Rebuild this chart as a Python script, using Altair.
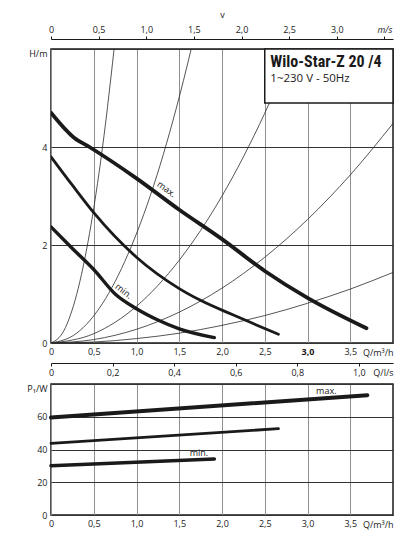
import altair as alt
import pandas as pd

# ---------------- data ----------------
Q_TICKS = [0, 0.5, 1.0, 1.5, 2.0, 2.5, 3.0, 3.5]
V_TICKS = [0, 0.5, 1.0, 1.5, 2.0, 2.5, 3.0, 3.5]
LS_TICKS = [0, 0.2, 0.4, 0.6, 0.8, 1.0]
H_TICKS = [0, 2, 4, 6]
P_TICKS = [0, 20, 40, 60, 80]
Q_MAX = 4.0
H_MAX = 6.0
P_MAX = 80
V_MAX = 3.59
LS_MAX = 1.111

# pump curves H(Q)
max_q = [0, 0.27, 0.45, 1.0, 1.5, 2.0, 2.5, 3.0, 3.69]
max_h = [4.70, 4.19, 4.00, 3.36, 2.72, 2.12, 1.47, 0.92, 0.30]
mid_q = [0, 0.25, 0.5, 1.0, 1.5, 1.76, 2.12, 2.66]
mid_h = [3.80, 3.22, 2.66, 1.75, 1.11, 0.86, 0.58, 0.18]
min_q = [0, 0.25, 0.5, 0.75, 1.0, 1.25, 1.5, 1.91]
min_h = [2.37, 1.93, 1.50, 1.00, 0.70, 0.47, 0.29, 0.11]

# thin system curves
s1_q = [0, 0.15, 0.3, 0.45, 0.6, 0.76]
s1_h = [0, 0.25, 0.99, 2.23, 3.96, 6.35]
s2_q = [0, 0.3, 0.6, 0.9, 1.2, 1.5, 1.7]
s2_h = [0, 0.20, 0.80, 1.81, 3.21, 5.02, 6.44]
s3_q = [0, 0.5, 1.0, 1.5, 2.0, 2.5, 2.9]
s3_h = [0, 0.19, 0.75, 1.69, 3.00, 4.69, 6.31]
s4_q = [0, 0.5, 1.0, 1.5, 2.0, 2.5, 3.0, 3.5, 4.0]
s4_h = [0, 0.07, 0.28, 0.63, 1.12, 1.75, 2.52, 3.43, 4.48]
s5_q = [0, 0.5, 1.0, 1.5, 2.0, 2.5, 3.0, 3.5, 4.0]
s5_h = [0, 0.02, 0.09, 0.20, 0.36, 0.56, 0.81, 1.10, 1.44]

# power curves P1(Q)
pmax_q = [0, 3.70]
pmax_p = [59.5, 73.2]
pmid_q = [0, 2.66]
pmid_p = [43.8, 52.7]
pmin_q = [0, 1.91]
pmin_p = [30.1, 34.2]

# annotations
title_lines = ["Wilo-Star-Z 20 /4", "1~230 V - 50Hz"]
box_q = [2.5, 4.0]
box_h = [4.9, 6.0]
curve_labels = ["max.", "min."]
curve_label_q = [1.35, 0.85]
curve_label_h = [3.14, 1.06]
curve_label_angle = [36, 38]
p_label_q = [3.22, 1.73]
p_label_p = [75.7, 37.9]

# ---------------- styling ----------------
FONT = "Open Sans"
TFONT = "Liberation Sans Narrow, Roboto Condensed, Roboto"
INK = "#1a1a1a"
W, HA, HB = 342, 294, 131

comma = "datum.value == 0 ? '0' : replace(format(datum.value, '.1f'), '.', ',')"


def q_scale():
    return alt.Scale(domain=[0, Q_MAX], nice=False, zero=False)


h_scale = alt.Scale(domain=[0, H_MAX], nice=False)
p_scale = alt.Scale(domain=[0, P_MAX], nice=False)


def q_axis(bold3=False):
    kw = {}
    if bold3:
        kw["labelFontWeight"] = {"condition": {"test": "datum.value == 3", "value": "bold"},
                                 "value": "normal"}
    return alt.Axis(values=Q_TICKS, grid=True, gridColor="#8f8f8f", gridWidth=1,
                    ticks=False, domain=False, labelExpr=comma, labelPadding=4,
                    title="Q/m³/h", titleX=W, titleY=12, titleAlign="right",
                    titleBaseline="alphabetic", **kw)


XA_AX = alt.X("Q:Q", scale=q_scale(), axis=q_axis(True))
XA = alt.X("Q:Q", scale=q_scale(), axis=None)
YA = alt.Y("H:Q", scale=h_scale, axis=alt.Axis(
    values=H_TICKS, grid=True, gridColor="#333333", gridWidth=1, ticks=False,
    domain=False, labelPadding=4, title=None,
    labelExpr="datum.value == 6 ? 'H/m' : format(datum.value, 'd')",
    labelBaseline={"condition": {"test": "datum.value == 6", "value": "top"},
                   "value": "middle"}))

# pump curves
rows = []
for name, qs, hs, w in [("max", max_q, max_h, 3.8), ("mid", mid_q, mid_h, 2.8),
                        ("min", min_q, min_h, 3.4)]:
    for i, (q, h) in enumerate(zip(qs, hs)):
        rows.append({"curve": name, "i": i, "Q": q, "H": h, "w": w})
pump_df = pd.DataFrame(rows)

rows = []
for name, qs, hs in [("s1", s1_q, s1_h), ("s2", s2_q, s2_h), ("s3", s3_q, s3_h),
                     ("s4", s4_q, s4_h), ("s5", s5_q, s5_h)]:
    for i, (q, h) in enumerate(zip(qs, hs)):
        rows.append({"curve": name, "i": i, "Q": q, "H": h})
sys_df = pd.DataFrame(rows)

sys_layer = alt.Chart(sys_df).mark_line(
    color="#2a2a2a", strokeWidth=0.8, interpolate="monotone", clip=True
).encode(x=XA_AX, y=YA, detail="curve:N", order="i:Q")

pump_layer = alt.Chart(pump_df).mark_line(
    color=INK, interpolate="monotone", strokeCap="round", clip=True
).encode(x=XA, y=YA, detail="curve:N", order="i:Q",
         strokeWidth=alt.StrokeWidth("w:Q", scale=None))

box_df = pd.DataFrame({"Q": [box_q[0]], "Q2": [box_q[1]], "H": [box_h[0]], "H2": [box_h[1]]})
box_layer = alt.Chart(box_df).mark_rect(
    fill="white", stroke=INK, strokeWidth=1.5
).encode(x=XA, x2="Q2", y=YA, y2="H2")

t1 = alt.Chart(pd.DataFrame({"Q": [2.565], "H": [5.63], "t": [title_lines[0]]})).mark_text(
    align="left", baseline="alphabetic", font=TFONT, fontSize=16, fontWeight="bold", color=INK
).encode(x=XA, y=YA, text="t:N")
t2 = alt.Chart(pd.DataFrame({"Q": [2.565], "H": [5.33], "t": [title_lines[1]]})).mark_text(
    align="left", baseline="alphabetic", font=FONT, fontSize=11.5, color=INK
).encode(x=XA, y=YA, text="t:N")

lab_layers = [
    alt.Chart(pd.DataFrame({"Q": [curve_label_q[k]], "H": [curve_label_h[k]],
                            "t": [curve_labels[k]]})).mark_text(
        font=FONT, fontSize=9, color=INK, angle=int(curve_label_angle[k]),
        align="center", baseline="middle"
    ).encode(x=XA, y=YA, text="t:N")
    for k in range(len(curve_labels))
]

v_layer = alt.Chart(pd.DataFrame({"v": [0, V_MAX], "H": [1, 1]})).mark_point(opacity=0).encode(
    x=alt.X("v:Q", scale=alt.Scale(domain=[0, V_MAX], nice=False, zero=False),
            axis=alt.Axis(orient="top", offset=10, values=V_TICKS, grid=False,
                          domain=True, domainColor=INK, domainWidth=1,
                          ticks=True, tickSize=3, tickColor=INK, labelPadding=2,
                          labelExpr="datum.value == 3.5 ? 'm/s' : (" + comma + ")",
                          labelFontStyle={"condition": {"test": "datum.value == 3.5",
                                                        "value": "italic"},
                                          "value": "normal"},
                          title="v", titlePadding=6)),
    y=YA,
)

ls_layer = alt.Chart(pd.DataFrame({"ls": [0, LS_MAX], "H": [1, 1]})).mark_point(opacity=0).encode(
    x=alt.X("ls:Q", scale=alt.Scale(domain=[0, LS_MAX], nice=False, zero=False),
            axis=alt.Axis(orient="bottom", offset=20, values=LS_TICKS, grid=False,
                          domain=True, domainColor=INK, domainWidth=1,
                          ticks=True, tickSize=3, tickColor=INK, labelPadding=2,
                          labelExpr=comma, title="Q/l/s", titleX=W, titleY=12,
                          titleAlign="right", titleBaseline="alphabetic")),
    y=YA,
)

panel_a = alt.layer(
    sys_layer, pump_layer, box_layer, t1, t2, *lab_layers, v_layer, ls_layer
).resolve_scale(x="independent").properties(width=W, height=HA)

# ---------------- power panel ----------------
rows = []
for name, qs, ps, w in [("max", pmax_q, pmax_p, 4.0), ("mid", pmid_q, pmid_p, 2.8),
                        ("min", pmin_q, pmin_p, 3.6)]:
    for i, (q, p) in enumerate(zip(qs, ps)):
        rows.append({"curve": name, "i": i, "Q": q, "P": p, "w": w})
pow_df = pd.DataFrame(rows)

XB = alt.X("Q:Q", scale=q_scale(), axis=q_axis())
YB = alt.Y("P:Q", scale=p_scale, axis=alt.Axis(
    values=P_TICKS, grid=True, gridColor="#333333", gridWidth=1, ticks=False,
    domain=False, labelPadding=4, title=None,
    labelExpr="datum.value == 80 ? 'P₁/W' : format(datum.value, 'd')",
    labelBaseline={"condition": {"test": "datum.value == 80", "value": "top"},
                   "value": "middle"}))

pow_layer = alt.Chart(pow_df).mark_line(color=INK, strokeCap="round").encode(
    x=XB, y=YB, detail="curve:N", order="i:Q",
    strokeWidth=alt.StrokeWidth("w:Q", scale=None))

plab = alt.Chart(pd.DataFrame({"Q": p_label_q, "P": p_label_p, "t": curve_labels})).mark_text(
    font=FONT, fontSize=9, color=INK, align="center", baseline="middle"
).encode(x=XB, y=YB, text="t:N")

panel_b = alt.layer(pow_layer, plab).properties(width=W, height=HB)

chart = alt.vconcat(panel_a, panel_b, spacing=5).properties(
    padding={"left": 18, "top": 1, "right": 5, "bottom": 5}
).configure_view(stroke=INK, strokeWidth=1.5).configure_axis(
    labelFont=FONT, labelFontSize=9, labelColor=INK, labelFlush=False,
    labelOverlap=False, titleFont=FONT, titleFontSize=9, titleFontWeight="normal",
    titleColor=INK
)

chart.save("out.html", embed_options={"renderer": "svg", "actions": False})
